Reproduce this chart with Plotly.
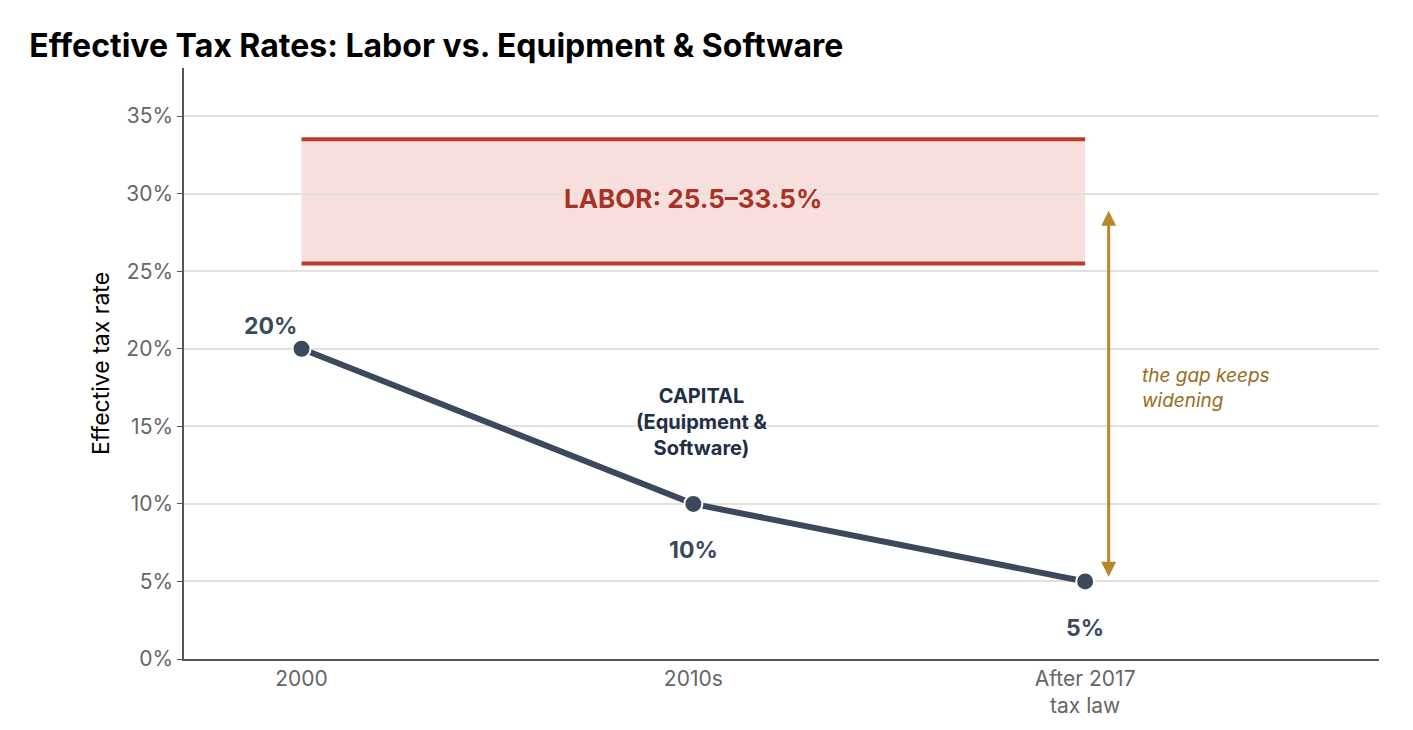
import plotly.graph_objects as go

categories = ["2000", "2010s", "After 2017<br>tax law"]
capital_rates = [20, 10, 5]
point_labels = ["20%", "10%", "5%"]
labor_low, labor_high = 25.5, 33.5
tick_vals = [0, 5, 10, 15, 20, 25, 30, 35]
tick_text = [f"{v}%" for v in tick_vals]

x = [0, 1, 2]
fig = go.Figure()
fig.add_shape(type="rect", x0=0, x1=2, y0=labor_low, y1=labor_high,
              fillcolor="rgba(220,110,100,0.22)", line=dict(width=0), layer="below")
for yv in (labor_low, labor_high):
    fig.add_shape(type="line", x0=0, x1=2, y0=yv, y1=yv, line=dict(color="#c0392b", width=4))
fig.add_trace(go.Scatter(x=x, y=capital_rates, mode="lines+markers",
                         line=dict(color="#3a4a5c", width=6),
                         marker=dict(size=18, color="#3a4a5c", line=dict(color="white", width=2)),
                         showlegend=False, hoverinfo="skip"))
offsets = [(-0.08, 1.5), (0, -3), (0, -3)]
for xi, yi, t, (dx, dy) in zip(x, capital_rates, point_labels, offsets):
    fig.add_annotation(x=xi + dx, y=yi + dy, text=f"<b>{t}</b>", showarrow=False,
                       font=dict(size=23, color="#3a4a5c"))
fig.add_annotation(x=1.0, y=29.7, text="<b>LABOR: 25.5–33.5%</b>", showarrow=False,
                   font=dict(size=26, color="#a93226"))
fig.add_annotation(x=1.02, y=15.3, text="<b>CAPITAL<br>(Equipment &<br>Software)</b>", showarrow=False,
                   font=dict(size=20, color="#1f2f45"))
fig.add_annotation(x=2.06, y=5.3, ax=2.06, ay=29, xref="x", yref="y", axref="x", ayref="y",
                   text="", showarrow=True, arrowhead=2, arrowside="end+start",
                   arrowcolor="#b8862b", arrowwidth=3, arrowsize=1)
fig.add_annotation(x=2.14, y=17.5, text="<i>the gap keeps<br>widening</i>", showarrow=False,
                   xanchor="left", align="left", font=dict(size=19, color="#9a6b1c"))

fig.update_layout(
    width=1413, height=730, paper_bgcolor="white", plot_bgcolor="white",
    margin=dict(l=176, r=42, t=60, b=79),
    font=dict(family="Inter, DejaVu Sans, sans-serif"),
    title=dict(text="<b>Effective Tax Rates: Labor vs. Equipment & Software</b>",
               x=0.015, xanchor="left", y=0.948, yanchor="middle",
               font=dict(size=32, color="black")),
    xaxis=dict(range=[-0.3, 2.75], tickvals=x, ticktext=categories, showgrid=False,
               showline=True, linecolor="#555", linewidth=1.5, ticks="",
               tickfont=dict(size=21, color="#666"), zeroline=False),
    yaxis=dict(range=[0, 38.1], tickvals=tick_vals, ticktext=tick_text,
               showgrid=True, gridcolor="#e2e2d8", gridwidth=1.5,
               showline=True, linecolor="#555", linewidth=1.5, ticks="outside",
               ticklen=5, tickcolor="#555",
               tickfont=dict(size=21, color="#666"), zeroline=False,
               title=dict(text="Effective tax rate", font=dict(size=23, color="black"), standoff=10)),
)
fig.write_html("out.html")
